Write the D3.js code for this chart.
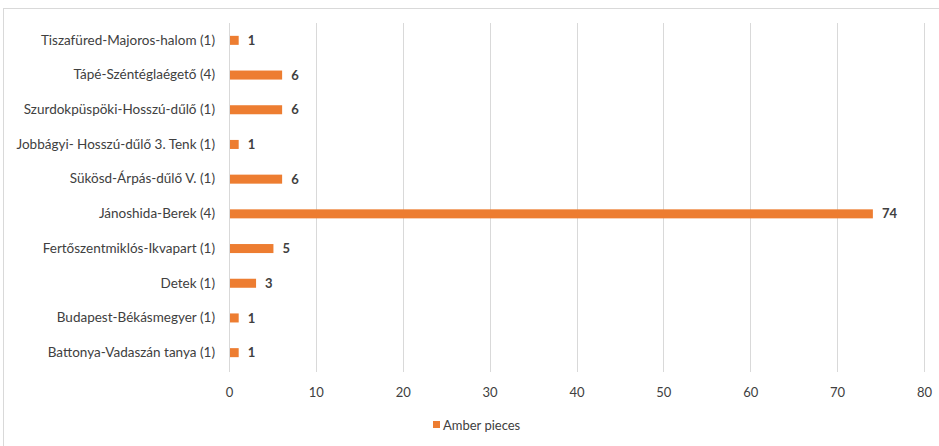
<!DOCTYPE html>
<html>
<head>
<meta charset="utf-8">
<script src="https://cdn.jsdelivr.net/npm/d3@7"></script>
<style>
  html, body { margin: 0; padding: 0; background: #fff; }
  svg { display: block; }
  text { font-family: Lato, "Open Sans", sans-serif; fill: #404040; }
</style>
</head>
<body>
<svg id="chart" width="939" height="446"></svg>
<script>
// Sites (number of graves in brackets), listed bottom to top
const sites = [
  "Battonya-Vadaszán tanya (1)",
  "Budapest-Békásmegyer (1)",
  "Detek (1)",
  "Fertőszentmiklós-Ikvapart (1)",
  "Jánoshida-Berek (4)",
  "Sükösd-Árpás-dűlő V. (1)",
  "Jobbágyi- Hosszú-dűlő 3. Tenk (1)",
  "Szurdokpüspöki-Hosszú-dűlő (1)",
  "Tápé-Széntéglaégető (4)",
  "Tiszafüred-Majoros-halom (1)"
];
const amberPieces = [1, 1, 3, 5, 74, 6, 1, 6, 6, 1];
const xTicks = [0, 10, 20, 30, 40, 50, 60, 70, 80];
const seriesName = "Amber pieces";

const svg = d3.select("#chart");
const W = 939, H = 446;
const margin = { top: 23, right: 15, bottom: 76, left: 229 };

// chart frame
svg.append("rect")
  .attr("x", 3.5).attr("y", 8.5)
  .attr("width", W + 10).attr("height", H + 10)
  .attr("fill", "#fff").attr("stroke", "#d9d9d9");

const x = d3.scaleLinear().domain([0, 80]).range([margin.left, W - margin.right]);
const y = d3.scaleBand()
  .domain(sites.slice().reverse())
  .range([margin.top, H - margin.bottom])
  .paddingInner(0.74).paddingOuter(0.37);

// vertical gridlines
svg.append("g").selectAll("line")
  .data(xTicks)
  .join("line")
  .attr("x1", d => Math.round(x(d)) + 0.5).attr("x2", d => Math.round(x(d)) + 0.5)
  .attr("y1", margin.top).attr("y2", H - margin.bottom + 2)
  .attr("stroke", "#d9d9d9").attr("stroke-width", 1);

// x axis labels
const xAxis = d3.axisBottom(x).tickValues(xTicks).tickSize(0).tickPadding(18);
const gx = svg.append("g")
  .attr("transform", `translate(0,${H - margin.bottom})`)
  .call(xAxis);
gx.select(".domain").remove();
gx.selectAll("text").style("font-size", "13px").attr("fill", "#595959")
  .style("font-family", "Lato, sans-serif");

// y axis labels
const yAxis = d3.axisLeft(y).tickSize(0).tickPadding(14);
const gy = svg.append("g")
  .attr("transform", `translate(${margin.left},0)`)
  .call(yAxis);
gy.select(".domain").remove();
gy.selectAll("text").style("font-size", "13.5px").attr("fill", "#404040")
  .style("font-family", "Lato, sans-serif");

// bars
const data = sites.map((s, i) => ({ site: s, value: amberPieces[i] }));
svg.append("g").selectAll("rect")
  .data(data)
  .join("rect")
  .attr("x", x(0) + 1)
  .attr("y", d => y(d.site))
  .attr("width", d => x(d.value) - x(0))
  .attr("height", y.bandwidth())
  .attr("fill", "#ED7D31");

// value labels
svg.append("g").selectAll("text")
  .data(data)
  .join("text")
  .attr("x", d => x(d.value) + 10)
  .attr("y", d => y(d.site) + y.bandwidth() / 2)
  .attr("dy", "0.35em")
  .style("font-size", "13px")
  .style("font-weight", "bold")
  .attr("fill", "#404040")
  .text(d => d.value);

// legend
const lg = svg.append("g").attr("transform", "translate(433,425)");
lg.append("rect").attr("x", 0).attr("y", -4).attr("width", 7).attr("height", 7).attr("fill", "#ED7D31");
lg.append("text").attr("x", 10).attr("y", 0).attr("dy", "0.35em")
  .style("font-size", "13px").attr("fill", "#404040").text(seriesName);
</script>
</body>
</html>
